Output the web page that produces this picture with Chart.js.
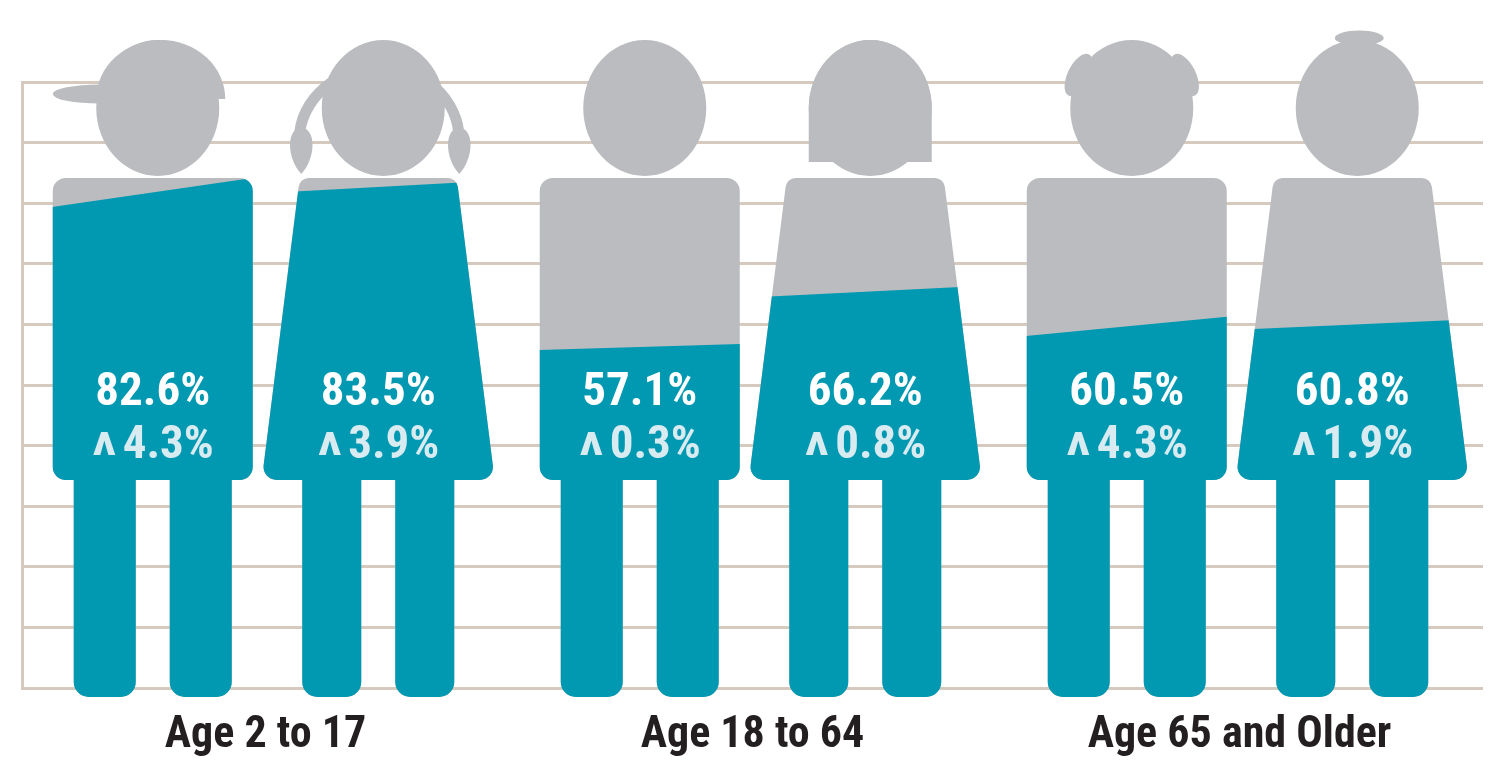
<!DOCTYPE html>
<html>
<head>
<meta charset="utf-8">
<script src="https://cdn.jsdelivr.net/npm/chart.js@4.4.1/dist/chart.umd.min.js"></script>
<style>
  html, body { margin: 0; padding: 0; background: #fff; }
  .chart-box { position: relative; width: 1503px; height: 780px; }
</style>
</head>
<body>
<div class="chart-box"><canvas class="js-chart"></canvas></div>
<script>
// values
const figures = ['Boys', 'Girls', 'Men', 'Women', 'Older men', 'Older women'];
const figureKinds = ['boy', 'girl', 'man', 'woman', 'oldman', 'oldwoman'];
const ageGroups = ['Age 2 to 17', 'Age 18 to 64', 'Age 65 and Older'];
const rates = [82.6, 83.5, 57.1, 66.2, 60.5, 60.8];
const changes = [4.3, 3.9, 0.3, 0.8, 4.3, 1.9];

const TEAL = '#0099b1';
const GRAY = '#bbbcbf';
const GRID = '#d6cabe';
const INK = '#231f20';
const FONT = '"Liberation Sans Narrow", "Roboto Condensed", "Arial Narrow", Lato, sans-serif';

// ---- figure pieces ----
function roundedPoly(p, pts, radii) {
  const n = pts.length;
  const sx = (pts[n - 1][0] + pts[0][0]) / 2;
  const sy = (pts[n - 1][1] + pts[0][1]) / 2;
  p.moveTo(sx, sy);
  for (let i = 0; i < n; i++) {
    const a = pts[i];
    const b = pts[(i + 1) % n];
    p.arcTo(a[0], a[1], b[0], b[1], radii[i]);
  }
  p.closePath();
}

function bodyPath(cx, female, g) {
  const p = new Path2D();
  if (female) {
    roundedPoly(p, [
      [cx - 78.5, g.bodyTop], [cx + 78.5, g.bodyTop],
      [cx + 116.5, g.bodyBottom], [cx - 116.5, g.bodyBottom]
    ], [10, 10, 13, 13]);
  } else {
    p.roundRect(cx - 100, g.bodyTop, 200, g.bodyBottom - g.bodyTop, 13);
  }
  const lw = female ? 59 : 62;
  const off = female ? 46.5 : 48;
  p.roundRect(cx - off - lw / 2, g.bodyBottom - 12, lw, g.legBottom - g.bodyBottom + 12, [0, 0, 15, 15]);
  p.roundRect(cx + off - lw / 2, g.bodyBottom - 12, lw, g.legBottom - g.bodyBottom + 12, [0, 0, 15, 15]);
  return p;
}

function teardrop(ctx, x, y0, y1) {
  ctx.beginPath();
  ctx.moveTo(x, y1);
  ctx.bezierCurveTo(x - 15, y1 - 16, x - 15, y0, x, y0);
  ctx.bezierCurveTo(x + 15, y0, x + 15, y1 - 16, x, y1);
  ctx.fill();
}

function drawHead(ctx, kind, hx, hy) {
  const rx = 61.5, ry = 68;
  ctx.fillStyle = GRAY;
  ctx.strokeStyle = GRAY;
  ctx.beginPath();
  ctx.ellipse(hx, hy, rx, ry, 0, 0, Math.PI * 2);
  ctx.fill();
  if (kind === 'boy') {
    ctx.beginPath();
    ctx.ellipse(hx + 3, hy - 9, 64.5, 59, 0, Math.PI, Math.PI * 2);
    ctx.closePath();
    ctx.fill();
    ctx.beginPath();
    ctx.ellipse(hx - 58, hy - 14, 47, 9.5, 0, 0, Math.PI * 2);
    ctx.fill();
  } else if (kind === 'girl') {
    ctx.lineWidth = 11;
    ctx.beginPath();
    ctx.ellipse(hx, hy + 32, 84, 73, 0, Math.PI + 0.1, Math.PI + 0.9);
    ctx.stroke();
    ctx.beginPath();
    ctx.ellipse(hx - 4, hy + 32, 80, 73, 0, Math.PI * 2 - 0.9, Math.PI * 2 - 0.1);
    ctx.stroke();
    teardrop(ctx, hx - 82, hy + 20, hy + 66);
    teardrop(ctx, hx + 76, hy + 20, hy + 66);
  } else if (kind === 'woman') {
    ctx.beginPath();
    ctx.moveTo(hx - rx, hy + 54);
    ctx.lineTo(hx - rx, hy);
    ctx.ellipse(hx, hy, rx, ry, 0, Math.PI, Math.PI * 2);
    ctx.lineTo(hx + rx, hy + 54);
    ctx.closePath();
    ctx.fill();
  } else if (kind === 'oldman') {
    ctx.beginPath();
    ctx.ellipse(hx - 53, hy - 33, 11, 23, 0.46, 0, Math.PI * 2);
    ctx.fill();
    ctx.beginPath();
    ctx.ellipse(hx + 53, hy - 33, 11, 23, -0.46, 0, Math.PI * 2);
    ctx.fill();
  } else if (kind === 'oldwoman') {
    ctx.beginPath();
    ctx.ellipse(hx + 2, hy - 70, 24.5, 7.5, 0, 0, Math.PI * 2);
    ctx.fill();
  }
}

const figurePlugin = {
  id: 'figures',
  afterDatasetsDraw(chart, args, opts) {
    const ctx = chart.ctx;
    const meta = chart.getDatasetMeta(0);
    const { top, bottom } = chart.chartArea;
    const g = { bodyTop: top + 96, bodyBottom: top + 398, legBottom: bottom + 9 };

    meta.data.forEach((bar, i) => {
      const kind = figureKinds[i];
      const female = kind === 'girl' || kind === 'woman' || kind === 'oldwoman';
      const cx = bar.x + (i % 2 === 0 ? opts.pairShift : -opts.pairShift);

      ctx.save();
      drawHead(ctx, kind, cx + 5, top + 26);

      const body = bodyPath(cx, female, g);
      ctx.fillStyle = GRAY;
      ctx.fill(body);
      ctx.clip(body);
      // fill level comes from the y scale (bar.y), slightly tilted
      const t = opts.tilt[i] * 0.65;
      const y = bar.y + opts.fillOffset;
      ctx.fillStyle = TEAL;
      ctx.beginPath();
      ctx.moveTo(cx - 130, y + t);
      ctx.lineTo(cx + 130, y - t);
      ctx.lineTo(cx + 130, g.legBottom + 5);
      ctx.lineTo(cx - 130, g.legBottom + 5);
      ctx.closePath();
      ctx.fill();
      ctx.restore();

      // labels
      ctx.save();
      ctx.font = 'bold 47px ' + FONT;
      ctx.textAlign = 'center';
      ctx.textBaseline = 'alphabetic';
      ctx.fillStyle = '#ffffff';
      ctx.fillText(rates[i].toFixed(1) + '%', cx, top + 323);

      const num = changes[i].toFixed(1) + '%';
      const nw = ctx.measureText(num).width;
      ctx.font = 'bold 64px ' + FONT;
      const cw = ctx.measureText('^').width;
      const gap = 6;
      const x0 = cx - (cw + gap + nw) / 2;
      ctx.textAlign = 'left';
      ctx.fillStyle = '#d8ebf1';
      ctx.fillText('^', x0, top + 376 + 20);
      ctx.font = 'bold 47px ' + FONT;
      ctx.fillText(num, x0 + cw + gap, top + 376);
      ctx.restore();
    });
  }
};

const ctx = document.querySelector('.js-chart').getContext('2d');

new Chart(ctx, {
  type: 'bar',
  data: {
    labels: figures,
    datasets: [
      {
        label: 'Rate',
        data: rates,
        backgroundColor: 'rgba(0,0,0,0)',
        borderWidth: 0,
      },
    ],
  },
  options: {
    responsive: true,
    maintainAspectRatio: false,
    animation: false,
    events: [],
    layout: { padding: { left: 22, right: 20, top: 82, bottom: 2 } },
    plugins: {
      legend: { display: false },
      tooltip: { enabled: false },
      figures: {
        pairShift: 9,
        fillOffset: 5,
        tilt: [29, 11, 6, 10, 19, 9],
      },
    },
    scales: {
      x: { display: false },
      groups: {
        type: 'category',
        labels: ageGroups,
        position: 'bottom',
        offset: true,
        grid: { display: false, drawTicks: false },
        border: { display: false },
        afterFit(scale) { scale.height = 90; },
        ticks: {
          color: INK,
          padding: 22,
          maxRotation: 0,
          autoSkip: false,
          font: { family: FONT, size: 44, weight: 'bold' },
        },
      },
      y: {
        min: 0,
        max: 100,
        ticks: { display: false, stepSize: 10 },
        grid: { color: GRID, lineWidth: 3, drawTicks: false },
        border: { display: true, color: GRID, width: 3 },
      },
    },
  },
  plugins: [figurePlugin],
});
</script>
</body>
</html>
